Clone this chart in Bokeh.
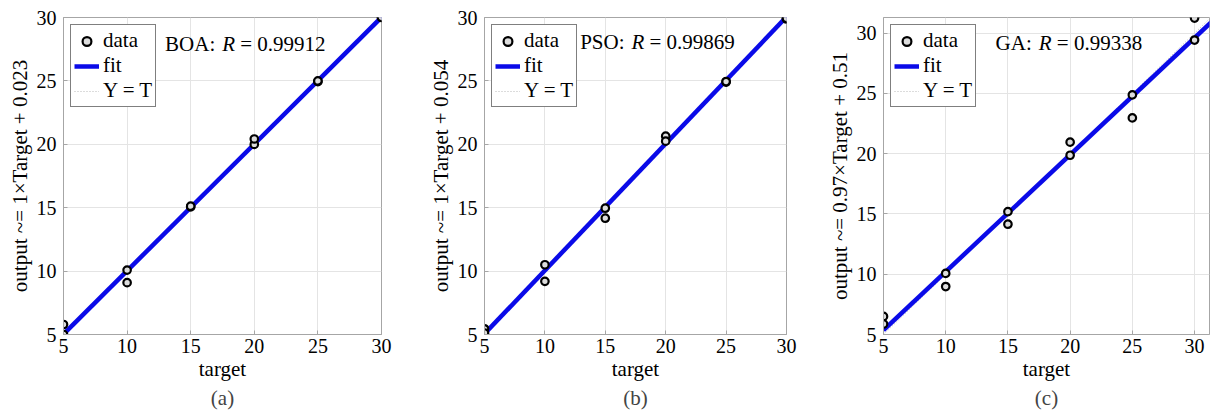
from bokeh.plotting import figure
from bokeh.models import Range1d, FixedTicker, Legend, LegendItem, Label, Title
from bokeh.layouts import row
from bokeh.embed import file_html
from bokeh.resources import INLINE

# ---------------- data ----------------
ticks = [5, 10, 15, 20, 25, 30]
identity_x = [5, 32]

targets_a = [5, 5, 10, 10, 15, 15, 20, 20, 25, 25, 30, 30]
outputs_a = [5.0, 5.79, 10.08, 9.09, 15.06, 15.12, 19.99, 20.42, 24.94, 25.0, 30.0, 30.02]
slope_a, intercept_a = 1.0, 0.023
r_a = "0.99912"

targets_b = [5, 5, 10, 10, 15, 15, 20, 20, 25, 25, 30, 30]
outputs_b = [5.45, 5.12, 10.5, 9.19, 14.96, 14.17, 20.64, 20.25, 24.91, 24.95, 29.88, 29.95]
slope_b, intercept_b = 1.0, 0.054
r_b = "0.99869"

targets_c = [5, 5, 10, 10, 15, 15, 20, 20, 25, 25, 30, 30]
outputs_c = [6.5, 5.87, 10.07, 8.98, 15.19, 14.15, 20.96, 19.87, 24.88, 22.97, 31.25, 29.43]
slope_c, intercept_c = 0.97, 0.51
r_c = "0.99338"

FONT = "Liberation Serif"
GRAY = "#a6a6a6"
BLUE = "#0a0ae8"


def panel(name, targets, outputs, slope, intercept, r_text, ylabel, letter,
          width, borders, x_end, y_end, anchor):
    left, right, top, bottom = borders
    p = figure(width=width, height=414, output_backend="svg", toolbar_location=None,
               x_range=Range1d(5, x_end), y_range=Range1d(5, y_end),
               min_border_left=left, min_border_right=right,
               min_border_top=top, min_border_bottom=bottom,
               background_fill_color="white", border_fill_color="white",
               outline_line_color=GRAY, outline_line_width=1)
    for ax in (p.xaxis[0], p.yaxis[0]):
        ax.ticker = FixedTicker(ticks=ticks)
        ax.axis_line_color = GRAY
        ax.major_tick_line_color = GRAY
        ax.major_tick_in = 4
        ax.major_tick_out = 0
        ax.minor_tick_line_color = None
        ax.major_label_text_font = FONT
        ax.major_label_text_font_size = "20px"
        ax.major_label_text_color = "black"
        ax.axis_label_text_font = FONT
        ax.axis_label_text_font_size = "21px"
        ax.axis_label_text_font_style = "normal"
        ax.axis_label_text_color = "black"
    p.xaxis.axis_label = "target"
    p.yaxis.axis_label = ylabel
    p.xaxis.major_label_standoff = 4
    p.yaxis.major_label_standoff = 7
    p.xaxis.axis_label_standoff = 1
    p.yaxis.axis_label_standoff = 2
    p.xgrid.ticker = FixedTicker(ticks=ticks)
    p.ygrid.ticker = FixedTicker(ticks=ticks)
    p.grid.grid_line_color = "#e4e4e4"
    p.grid.grid_line_width = 1

    # Y = T reference line
    yt = p.line(identity_x, identity_x, line_color="#b8b8b8", line_width=1, line_dash="1 2")
    # fit line
    fit_y = [slope * v + intercept for v in identity_x]
    ft = p.line(identity_x, fit_y, line_color=BLUE, line_width=4.5)
    # data
    dt = p.scatter(targets, outputs, marker="circle", size=7.5, line_color="black",
                   line_width=2.2, fill_color="#dddddd")

    legend = Legend(items=[LegendItem(label="data", renderers=[dt]),
                           LegendItem(label="fit", renderers=[ft]),
                           LegendItem(label="Y = T", renderers=[yt])],
                    location="top_left", margin=7, padding=3, spacing=0,
                    glyph_width=25, glyph_height=22, label_height=22,
                    label_standoff=4, label_text_font=FONT,
                    label_text_font_size="21px", label_text_color="black",
                    border_line_color="black",
                    border_line_width=1, background_fill_color="white",
                    background_fill_alpha=1.0)
    p.add_layout(legend)

    ax_, ay_ = anchor
    common = dict(x=ax_, y=ay_, text_font=FONT, text_font_size="21px",
                  text_baseline="alphabetic", text_color="black")
    p.add_layout(Label(text=name + ":", text_align="right", x_offset=-7, **common))
    p.add_layout(Label(text="R", text_align="left", text_font_style="italic", **common))
    p.add_layout(Label(text="= " + r_text, text_align="left", x_offset=18, **common))

    p.add_layout(Title(text=letter, align="center", text_font=FONT, text_font_size="21px",
                       text_font_style="normal", standoff=0, offset=0), "below")
    return p


pa = panel("BOA", targets_a, outputs_a, slope_a, intercept_a, r_a,
           "output ~= 1\u00d7Target + 0.023", "(a)",
           400, (63, 19, 16, 80), 30, 30, (17.48, 27.88))
pb = panel("PSO", targets_b, outputs_b, slope_b, intercept_b, r_b,
           "output ~= 1\u00d7Target + 0.054", "(b)",
           410, (84, 24, 17, 79), 30, 30, (17.17, 28.03))
pc = panel("GA", targets_c, outputs_c, slope_c, intercept_c, r_c,
           "output ~= 0.97\u00d7Target + 0.51", "(c)",
           404, (73, 5, 16, 76), 31.2, 31.3, (17.48, 29.18))

layout = row(pa, pb, pc)
open("out.html", "w").write(file_html(layout, INLINE))
